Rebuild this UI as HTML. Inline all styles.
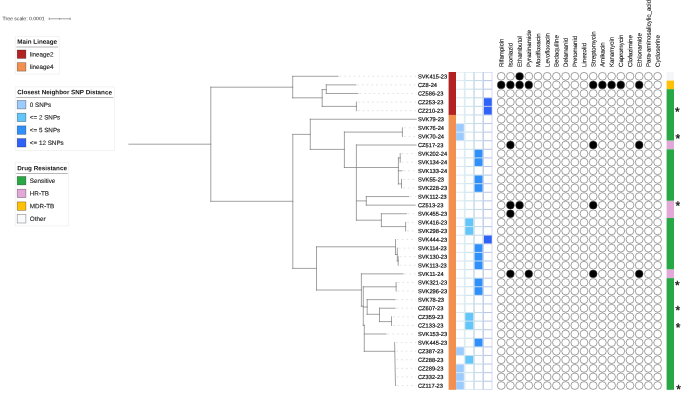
<!DOCTYPE html>
<html><head><meta charset="utf-8"><title>Tree</title>
<style>html,body{margin:0;padding:0;background:#fff}svg text{font-family:"Liberation Sans",sans-serif}</style></head>
<body>
<svg width="685" height="395" viewBox="0 0 685 395" style="display:block">
<rect width="685" height="395" fill="#fff"/>
<text transform="translate(2.6 20.3) rotate(0.05)" font-size="5.1" fill="#333">Tree scale: 0.0001</text>
<path d="M49.2 18.8H70.2M49.2 17.6V20M70.2 17.6V20M59.7 18V19.6" stroke="#666" stroke-width="0.6" fill="none"/>
<rect x="15.2" y="36.4" width="44.0" height="37.6" fill="#fff" stroke="#ececec" stroke-width="0.6"/>
<text transform="translate(17.2 43.8) rotate(0.05)" font-size="6.3" font-weight="bold" fill="#111">Main Lineage</text>
<path d="M16.3 47.0H58.2" stroke="#999" stroke-width="0.7"/>
<rect x="17.2" y="50.0" width="8.7" height="8.4" fill="#b22222" stroke="#000" stroke-opacity="0.45" stroke-width="0.6"/>
<text transform="translate(29.8 56.4) rotate(0.05)" font-size="6.3" fill="#222" stroke="#222" stroke-width="0.12">lineage2</text>
<rect x="17.2" y="62.7" width="8.7" height="8.4" fill="#f4904f" stroke="#000" stroke-opacity="0.45" stroke-width="0.6"/>
<text transform="translate(29.8 69.1) rotate(0.05)" font-size="6.3" fill="#222" stroke="#222" stroke-width="0.12">lineage4</text>
<rect x="15.2" y="86.9" width="99.2" height="63.6" fill="#fff" stroke="#ececec" stroke-width="0.6"/>
<text transform="translate(17.2 94.3) rotate(0.05)" font-size="6.3" font-weight="bold" fill="#111">Closest Neighbor SNP Distance</text>
<path d="M16.3 97.5H113.4" stroke="#999" stroke-width="0.7"/>
<rect x="17.2" y="100.5" width="8.7" height="8.4" fill="#9ecbff" stroke="#000" stroke-opacity="0.45" stroke-width="0.6"/>
<text transform="translate(29.8 106.9) rotate(0.05)" font-size="6.3" fill="#222" stroke="#222" stroke-width="0.12">0 SNPs</text>
<rect x="17.2" y="113.2" width="8.7" height="8.4" fill="#62c6fb" stroke="#000" stroke-opacity="0.45" stroke-width="0.6"/>
<text transform="translate(29.8 119.6) rotate(0.05)" font-size="6.3" fill="#222" stroke="#222" stroke-width="0.12">&lt;= 2 SNPs</text>
<rect x="17.2" y="125.9" width="8.7" height="8.4" fill="#2f8ffb" stroke="#000" stroke-opacity="0.45" stroke-width="0.6"/>
<text transform="translate(29.8 132.3) rotate(0.05)" font-size="6.3" fill="#222" stroke="#222" stroke-width="0.12">&lt;= 5 SNPs</text>
<rect x="17.2" y="138.6" width="8.7" height="8.4" fill="#2f62f8" stroke="#000" stroke-opacity="0.45" stroke-width="0.6"/>
<text transform="translate(29.8 145.0) rotate(0.05)" font-size="6.3" fill="#222" stroke="#222" stroke-width="0.12">&lt;= 12 SNPs</text>
<rect x="15.2" y="162.2" width="53.6" height="63.7" fill="#fff" stroke="#ececec" stroke-width="0.6"/>
<text transform="translate(17.2 170.3) rotate(0.05)" font-size="6.3" font-weight="bold" fill="#111">Drug Resistance</text>
<path d="M16.3 173.5H67.8" stroke="#999" stroke-width="0.7"/>
<rect x="17.2" y="176.5" width="8.7" height="8.4" fill="#28a745" stroke="#000" stroke-opacity="0.45" stroke-width="0.6"/>
<text transform="translate(29.8 182.9) rotate(0.05)" font-size="6.3" fill="#222" stroke="#222" stroke-width="0.12">Sensitive</text>
<rect x="17.2" y="189.2" width="8.7" height="8.4" fill="#e2a9d8" stroke="#000" stroke-opacity="0.45" stroke-width="0.6"/>
<text transform="translate(29.8 195.6) rotate(0.05)" font-size="6.3" fill="#222" stroke="#222" stroke-width="0.12">HR-TB</text>
<rect x="17.2" y="201.9" width="8.7" height="8.4" fill="#ffc107" stroke="#000" stroke-opacity="0.45" stroke-width="0.6"/>
<text transform="translate(29.8 208.3) rotate(0.05)" font-size="6.3" fill="#222" stroke="#222" stroke-width="0.12">MDR-TB</text>
<rect x="17.2" y="214.6" width="8.7" height="8.4" fill="#f8f9fa" stroke="#000" stroke-opacity="0.45" stroke-width="0.6"/>
<text transform="translate(29.8 221.0) rotate(0.05)" font-size="6.3" fill="#222" stroke="#222" stroke-width="0.12">Other</text>
<path d="M339.5 76.30H416.3M357.3 84.89H416.3M359.4 93.48H416.3M357.9 102.07H416.3M357.9 110.66H416.3M403.9 127.84H416.3M403.9 136.43H416.3M401.7 153.61H416.3M401.7 162.20H416.3M403.5 170.79H416.3M403.0 179.38H416.3M403.0 187.97H416.3M410.1 196.56H416.3M407.9 213.74H416.3M407.1 222.33H416.3M407.1 230.92H416.3M397.0 239.51H416.3M398.8 248.10H416.3M399.7 256.69H416.3M399.7 265.28H416.3M404.6 273.87H416.3M397.6 282.46H416.3M397.6 291.05H416.3M396.7 299.64H416.3M396.7 308.23H416.3M393.0 316.82H416.3M393.0 325.41H416.3M387.6 334.00H416.3M396.1 342.59H416.3M396.2 351.18H416.3M396.4 359.77H416.3M396.6 368.36H416.3M396.8 376.95H416.3M397.0 385.54H416.3" stroke="#d2d2d2" stroke-width="0.6" stroke-dasharray="1.8 2.9" fill="none"/>
<path d="M128.9 144.20L210.8 144.20M210.8 87.20L210.8 201.30M210.8 87.20L292.7 87.20M292.7 76.30L292.7 97.80M292.7 76.30L338.0 76.30M292.7 97.80L322.2 97.80M322.2 89.60L322.2 106.40M322.2 89.60L326.3 89.60M326.3 84.89L326.3 93.48M326.3 84.89L355.8 84.89M326.3 93.48L357.9 93.48M322.2 106.40L356.4 106.40M356.4 102.07L356.4 110.66M210.8 201.30L292.8 201.30M292.8 134.40L292.8 268.40M292.8 134.40L310.3 134.40M310.3 119.25L310.3 149.40M310.3 119.25L416.3 119.25M310.3 149.40L344.4 149.40M344.4 132.10L344.4 167.50M344.4 132.10L402.4 132.10M402.4 127.84L402.4 136.43M344.4 167.50L398.4 167.50M356.4 145.02L356.4 220.20M356.4 145.02L416.0 145.02M398.4 157.90L398.4 183.90M398.4 157.90L400.2 157.90M400.2 153.61L400.2 162.20M398.4 170.79L402.0 170.79M398.4 183.90L401.5 183.90M401.5 179.38L401.5 187.97M356.4 200.90L366.3 200.90M366.3 196.56L366.3 205.15M366.3 196.56L408.6 196.56M366.3 205.15L415.2 205.15M356.4 220.20L381.4 220.20M381.4 213.74L381.4 226.60M381.4 213.74L406.4 213.74M381.4 226.60L405.6 226.60M405.6 222.33L405.6 230.92M292.8 268.40L316.5 268.40M316.5 246.80L316.5 290.00M316.5 246.80L395.5 246.80M395.5 239.51L395.5 254.50M395.5 254.50L397.3 254.50M397.3 248.10L397.3 260.90M397.3 260.90L398.2 260.90M398.2 256.69L398.2 265.28M316.5 290.00L361.4 290.00M361.4 273.87L361.4 306.20M361.4 273.87L403.1 273.87M361.4 306.20L363.3 306.20M363.3 286.80L363.3 325.30M363.3 286.80L396.1 286.80M396.1 282.46L396.1 291.05M363.3 325.30L364.3 325.30M364.3 325.30L364.3 351.30M363.3 307.00L367.2 307.00M367.2 299.64L367.2 314.30M367.2 299.64L395.2 299.64M367.2 314.30L379.5 314.30M379.5 308.23L379.5 321.60M379.5 308.23L395.2 308.23M379.5 321.60L391.5 321.60M391.5 316.82L391.5 325.41M364.3 334.00L386.1 334.00M364.3 351.30L394.6 351.30M394.6 342.59L395.5 385.54" stroke="#7a7a7a" stroke-width="0.7" fill="none" stroke-linecap="square"/>
<g font-size="5.8" fill="#111" stroke="#111" stroke-width="0.2">
<text transform="translate(418 78.40) rotate(0.05) scale(0.983 1)">SVK415-23</text>
<text transform="translate(418 86.99) rotate(0.05) scale(0.983 1)">CZ8-24</text>
<text transform="translate(418 95.58) rotate(0.05) scale(0.983 1)">CZ586-23</text>
<text transform="translate(418 104.17) rotate(0.05) scale(0.983 1)">CZ253-23</text>
<text transform="translate(418 112.76) rotate(0.05) scale(0.983 1)">CZ210-23</text>
<text transform="translate(418 121.35) rotate(0.05) scale(0.983 1)">SVK79-23</text>
<text transform="translate(418 129.94) rotate(0.05) scale(0.983 1)">SVK76-24</text>
<text transform="translate(418 138.53) rotate(0.05) scale(0.983 1)">SVK70-24</text>
<text transform="translate(418 147.12) rotate(0.05) scale(0.983 1)">CZ517-23</text>
<text transform="translate(418 155.71) rotate(0.05) scale(0.983 1)">SVK202-24</text>
<text transform="translate(418 164.30) rotate(0.05) scale(0.983 1)">SVK134-24</text>
<text transform="translate(418 172.89) rotate(0.05) scale(0.983 1)">SVK133-24</text>
<text transform="translate(418 181.48) rotate(0.05) scale(0.983 1)">SVK55-23</text>
<text transform="translate(418 190.07) rotate(0.05) scale(0.983 1)">SVK228-23</text>
<text transform="translate(418 198.66) rotate(0.05) scale(0.983 1)">SVK112-23</text>
<text transform="translate(418 207.25) rotate(0.05) scale(0.983 1)">CZ513-23</text>
<text transform="translate(418 215.84) rotate(0.05) scale(0.983 1)">SVK455-23</text>
<text transform="translate(418 224.43) rotate(0.05) scale(0.983 1)">SVK416-23</text>
<text transform="translate(418 233.02) rotate(0.05) scale(0.983 1)">SVK298-23</text>
<text transform="translate(418 241.61) rotate(0.05) scale(0.983 1)">SVK444-23</text>
<text transform="translate(418 250.20) rotate(0.05) scale(0.983 1)">SVK114-23</text>
<text transform="translate(418 258.79) rotate(0.05) scale(0.983 1)">SVK130-23</text>
<text transform="translate(418 267.38) rotate(0.05) scale(0.983 1)">SVK113-23</text>
<text transform="translate(418 275.97) rotate(0.05) scale(0.983 1)">SVK11-24</text>
<text transform="translate(418 284.56) rotate(0.05) scale(0.983 1)">SVK321-23</text>
<text transform="translate(418 293.15) rotate(0.05) scale(0.983 1)">SVK296-23</text>
<text transform="translate(418 301.74) rotate(0.05) scale(0.983 1)">SVK78-23</text>
<text transform="translate(418 310.33) rotate(0.05) scale(0.983 1)">CZ607-23</text>
<text transform="translate(418 318.92) rotate(0.05) scale(0.983 1)">CZ359-23</text>
<text transform="translate(418 327.51) rotate(0.05) scale(0.983 1)">CZ133-23</text>
<text transform="translate(418 336.10) rotate(0.05) scale(0.983 1)">SVK153-23</text>
<text transform="translate(418 344.69) rotate(0.05) scale(0.983 1)">SVK445-23</text>
<text transform="translate(418 353.28) rotate(0.05) scale(0.983 1)">CZ387-23</text>
<text transform="translate(418 361.87) rotate(0.05) scale(0.983 1)">CZ288-23</text>
<text transform="translate(418 370.46) rotate(0.05) scale(0.983 1)">CZ289-23</text>
<text transform="translate(418 379.05) rotate(0.05) scale(0.983 1)">CZ332-23</text>
<text transform="translate(418 387.64) rotate(0.05) scale(0.983 1)">CZ117-23</text>
</g>
<rect x="456.00" y="72.00" width="8.60" height="317.83" fill="#dde9f2"/>
<rect x="464.60" y="72.00" width="9.30" height="317.83" fill="#cbe3ec"/>
<rect x="473.90" y="72.00" width="9.30" height="317.83" fill="#c2dae8"/>
<rect x="483.20" y="72.00" width="9.10" height="317.83" fill="#bcc7e8"/>
<rect x="456.10" y="72.52" width="7.7" height="7.55" fill="#fff"/>
<rect x="465.40" y="72.52" width="7.7" height="7.55" fill="#fff"/>
<rect x="474.70" y="72.52" width="7.7" height="7.55" fill="#fff"/>
<rect x="484.00" y="72.52" width="7.7" height="7.55" fill="#fff"/>
<rect x="456.10" y="81.11" width="7.7" height="7.55" fill="#fff"/>
<rect x="465.40" y="81.11" width="7.7" height="7.55" fill="#fff"/>
<rect x="474.70" y="81.11" width="7.7" height="7.55" fill="#fff"/>
<rect x="484.00" y="81.11" width="7.7" height="7.55" fill="#fff"/>
<rect x="456.10" y="89.70" width="7.7" height="7.55" fill="#fff"/>
<rect x="465.40" y="89.70" width="7.7" height="7.55" fill="#fff"/>
<rect x="474.70" y="89.70" width="7.7" height="7.55" fill="#fff"/>
<rect x="484.00" y="89.70" width="7.7" height="7.55" fill="#fff"/>
<rect x="456.10" y="98.29" width="7.7" height="7.55" fill="#fff"/>
<rect x="465.40" y="98.29" width="7.7" height="7.55" fill="#fff"/>
<rect x="474.70" y="98.29" width="7.7" height="7.55" fill="#fff"/>
<rect x="484.00" y="98.29" width="7.7" height="7.55" fill="#2f62f8"/>
<rect x="456.10" y="106.88" width="7.7" height="7.55" fill="#fff"/>
<rect x="465.40" y="106.88" width="7.7" height="7.55" fill="#fff"/>
<rect x="474.70" y="106.88" width="7.7" height="7.55" fill="#fff"/>
<rect x="484.00" y="106.88" width="7.7" height="7.55" fill="#2f62f8"/>
<rect x="456.10" y="115.47" width="7.7" height="7.55" fill="#fff"/>
<rect x="465.40" y="115.47" width="7.7" height="7.55" fill="#fff"/>
<rect x="474.70" y="115.47" width="7.7" height="7.55" fill="#fff"/>
<rect x="484.00" y="115.47" width="7.7" height="7.55" fill="#fff"/>
<rect x="456.10" y="124.06" width="7.7" height="7.55" fill="#9ecbff"/>
<rect x="465.40" y="124.06" width="7.7" height="7.55" fill="#fff"/>
<rect x="474.70" y="124.06" width="7.7" height="7.55" fill="#fff"/>
<rect x="484.00" y="124.06" width="7.7" height="7.55" fill="#fff"/>
<rect x="456.10" y="132.65" width="7.7" height="7.55" fill="#9ecbff"/>
<rect x="465.40" y="132.65" width="7.7" height="7.55" fill="#fff"/>
<rect x="474.70" y="132.65" width="7.7" height="7.55" fill="#fff"/>
<rect x="484.00" y="132.65" width="7.7" height="7.55" fill="#fff"/>
<rect x="456.10" y="141.24" width="7.7" height="7.55" fill="#fff"/>
<rect x="465.40" y="141.24" width="7.7" height="7.55" fill="#fff"/>
<rect x="474.70" y="141.24" width="7.7" height="7.55" fill="#fff"/>
<rect x="484.00" y="141.24" width="7.7" height="7.55" fill="#fff"/>
<rect x="456.10" y="149.83" width="7.7" height="7.55" fill="#fff"/>
<rect x="465.40" y="149.83" width="7.7" height="7.55" fill="#fff"/>
<rect x="474.70" y="149.83" width="7.7" height="7.55" fill="#2f8ffb"/>
<rect x="484.00" y="149.83" width="7.7" height="7.55" fill="#fff"/>
<rect x="456.10" y="158.42" width="7.7" height="7.55" fill="#fff"/>
<rect x="465.40" y="158.42" width="7.7" height="7.55" fill="#fff"/>
<rect x="474.70" y="158.42" width="7.7" height="7.55" fill="#2f8ffb"/>
<rect x="484.00" y="158.42" width="7.7" height="7.55" fill="#fff"/>
<rect x="456.10" y="167.01" width="7.7" height="7.55" fill="#fff"/>
<rect x="465.40" y="167.01" width="7.7" height="7.55" fill="#fff"/>
<rect x="474.70" y="167.01" width="7.7" height="7.55" fill="#fff"/>
<rect x="484.00" y="167.01" width="7.7" height="7.55" fill="#fff"/>
<rect x="456.10" y="175.60" width="7.7" height="7.55" fill="#fff"/>
<rect x="465.40" y="175.60" width="7.7" height="7.55" fill="#fff"/>
<rect x="474.70" y="175.60" width="7.7" height="7.55" fill="#2f8ffb"/>
<rect x="484.00" y="175.60" width="7.7" height="7.55" fill="#fff"/>
<rect x="456.10" y="184.19" width="7.7" height="7.55" fill="#fff"/>
<rect x="465.40" y="184.19" width="7.7" height="7.55" fill="#fff"/>
<rect x="474.70" y="184.19" width="7.7" height="7.55" fill="#2f8ffb"/>
<rect x="484.00" y="184.19" width="7.7" height="7.55" fill="#fff"/>
<rect x="456.10" y="192.78" width="7.7" height="7.55" fill="#fff"/>
<rect x="465.40" y="192.78" width="7.7" height="7.55" fill="#fff"/>
<rect x="474.70" y="192.78" width="7.7" height="7.55" fill="#fff"/>
<rect x="484.00" y="192.78" width="7.7" height="7.55" fill="#fff"/>
<rect x="456.10" y="201.37" width="7.7" height="7.55" fill="#fff"/>
<rect x="465.40" y="201.37" width="7.7" height="7.55" fill="#fff"/>
<rect x="474.70" y="201.37" width="7.7" height="7.55" fill="#fff"/>
<rect x="484.00" y="201.37" width="7.7" height="7.55" fill="#fff"/>
<rect x="456.10" y="209.96" width="7.7" height="7.55" fill="#fff"/>
<rect x="465.40" y="209.96" width="7.7" height="7.55" fill="#fff"/>
<rect x="474.70" y="209.96" width="7.7" height="7.55" fill="#fff"/>
<rect x="484.00" y="209.96" width="7.7" height="7.55" fill="#fff"/>
<rect x="456.10" y="218.55" width="7.7" height="7.55" fill="#fff"/>
<rect x="465.40" y="218.55" width="7.7" height="7.55" fill="#62c6fb"/>
<rect x="474.70" y="218.55" width="7.7" height="7.55" fill="#fff"/>
<rect x="484.00" y="218.55" width="7.7" height="7.55" fill="#fff"/>
<rect x="456.10" y="227.14" width="7.7" height="7.55" fill="#fff"/>
<rect x="465.40" y="227.14" width="7.7" height="7.55" fill="#62c6fb"/>
<rect x="474.70" y="227.14" width="7.7" height="7.55" fill="#fff"/>
<rect x="484.00" y="227.14" width="7.7" height="7.55" fill="#fff"/>
<rect x="456.10" y="235.73" width="7.7" height="7.55" fill="#fff"/>
<rect x="465.40" y="235.73" width="7.7" height="7.55" fill="#fff"/>
<rect x="474.70" y="235.73" width="7.7" height="7.55" fill="#fff"/>
<rect x="484.00" y="235.73" width="7.7" height="7.55" fill="#2f62f8"/>
<rect x="456.10" y="244.32" width="7.7" height="7.55" fill="#fff"/>
<rect x="465.40" y="244.32" width="7.7" height="7.55" fill="#fff"/>
<rect x="474.70" y="244.32" width="7.7" height="7.55" fill="#2f8ffb"/>
<rect x="484.00" y="244.32" width="7.7" height="7.55" fill="#fff"/>
<rect x="456.10" y="252.91" width="7.7" height="7.55" fill="#fff"/>
<rect x="465.40" y="252.91" width="7.7" height="7.55" fill="#fff"/>
<rect x="474.70" y="252.91" width="7.7" height="7.55" fill="#2f8ffb"/>
<rect x="484.00" y="252.91" width="7.7" height="7.55" fill="#fff"/>
<rect x="456.10" y="261.50" width="7.7" height="7.55" fill="#fff"/>
<rect x="465.40" y="261.50" width="7.7" height="7.55" fill="#fff"/>
<rect x="474.70" y="261.50" width="7.7" height="7.55" fill="#2f8ffb"/>
<rect x="484.00" y="261.50" width="7.7" height="7.55" fill="#fff"/>
<rect x="456.10" y="270.09" width="7.7" height="7.55" fill="#fff"/>
<rect x="465.40" y="270.09" width="7.7" height="7.55" fill="#fff"/>
<rect x="474.70" y="270.09" width="7.7" height="7.55" fill="#fff"/>
<rect x="484.00" y="270.09" width="7.7" height="7.55" fill="#fff"/>
<rect x="456.10" y="278.68" width="7.7" height="7.55" fill="#fff"/>
<rect x="465.40" y="278.68" width="7.7" height="7.55" fill="#fff"/>
<rect x="474.70" y="278.68" width="7.7" height="7.55" fill="#2f8ffb"/>
<rect x="484.00" y="278.68" width="7.7" height="7.55" fill="#fff"/>
<rect x="456.10" y="287.27" width="7.7" height="7.55" fill="#fff"/>
<rect x="465.40" y="287.27" width="7.7" height="7.55" fill="#fff"/>
<rect x="474.70" y="287.27" width="7.7" height="7.55" fill="#2f8ffb"/>
<rect x="484.00" y="287.27" width="7.7" height="7.55" fill="#fff"/>
<rect x="456.10" y="295.86" width="7.7" height="7.55" fill="#fff"/>
<rect x="465.40" y="295.86" width="7.7" height="7.55" fill="#fff"/>
<rect x="474.70" y="295.86" width="7.7" height="7.55" fill="#fff"/>
<rect x="484.00" y="295.86" width="7.7" height="7.55" fill="#fff"/>
<rect x="456.10" y="304.45" width="7.7" height="7.55" fill="#fff"/>
<rect x="465.40" y="304.45" width="7.7" height="7.55" fill="#fff"/>
<rect x="474.70" y="304.45" width="7.7" height="7.55" fill="#fff"/>
<rect x="484.00" y="304.45" width="7.7" height="7.55" fill="#fff"/>
<rect x="456.10" y="313.04" width="7.7" height="7.55" fill="#fff"/>
<rect x="465.40" y="313.04" width="7.7" height="7.55" fill="#62c6fb"/>
<rect x="474.70" y="313.04" width="7.7" height="7.55" fill="#fff"/>
<rect x="484.00" y="313.04" width="7.7" height="7.55" fill="#fff"/>
<rect x="456.10" y="321.63" width="7.7" height="7.55" fill="#fff"/>
<rect x="465.40" y="321.63" width="7.7" height="7.55" fill="#62c6fb"/>
<rect x="474.70" y="321.63" width="7.7" height="7.55" fill="#fff"/>
<rect x="484.00" y="321.63" width="7.7" height="7.55" fill="#fff"/>
<rect x="456.10" y="330.22" width="7.7" height="7.55" fill="#fff"/>
<rect x="465.40" y="330.22" width="7.7" height="7.55" fill="#fff"/>
<rect x="474.70" y="330.22" width="7.7" height="7.55" fill="#fff"/>
<rect x="484.00" y="330.22" width="7.7" height="7.55" fill="#fff"/>
<rect x="456.10" y="338.81" width="7.7" height="7.55" fill="#fff"/>
<rect x="465.40" y="338.81" width="7.7" height="7.55" fill="#fff"/>
<rect x="474.70" y="338.81" width="7.7" height="7.55" fill="#2f8ffb"/>
<rect x="484.00" y="338.81" width="7.7" height="7.55" fill="#fff"/>
<rect x="456.10" y="347.40" width="7.7" height="7.55" fill="#9ecbff"/>
<rect x="465.40" y="347.40" width="7.7" height="7.55" fill="#fff"/>
<rect x="474.70" y="347.40" width="7.7" height="7.55" fill="#fff"/>
<rect x="484.00" y="347.40" width="7.7" height="7.55" fill="#fff"/>
<rect x="456.10" y="355.99" width="7.7" height="7.55" fill="#fff"/>
<rect x="465.40" y="355.99" width="7.7" height="7.55" fill="#62c6fb"/>
<rect x="474.70" y="355.99" width="7.7" height="7.55" fill="#fff"/>
<rect x="484.00" y="355.99" width="7.7" height="7.55" fill="#fff"/>
<rect x="456.10" y="364.58" width="7.7" height="7.55" fill="#9ecbff"/>
<rect x="465.40" y="364.58" width="7.7" height="7.55" fill="#fff"/>
<rect x="474.70" y="364.58" width="7.7" height="7.55" fill="#fff"/>
<rect x="484.00" y="364.58" width="7.7" height="7.55" fill="#fff"/>
<rect x="456.10" y="373.17" width="7.7" height="7.55" fill="#9ecbff"/>
<rect x="465.40" y="373.17" width="7.7" height="7.55" fill="#fff"/>
<rect x="474.70" y="373.17" width="7.7" height="7.55" fill="#fff"/>
<rect x="484.00" y="373.17" width="7.7" height="7.55" fill="#fff"/>
<rect x="456.10" y="381.76" width="7.7" height="7.55" fill="#9ecbff"/>
<rect x="465.40" y="381.76" width="7.7" height="7.55" fill="#fff"/>
<rect x="474.70" y="381.76" width="7.7" height="7.55" fill="#fff"/>
<rect x="484.00" y="381.76" width="7.7" height="7.55" fill="#fff"/>
<rect x="448.6" y="72.00" width="7.4" height="42.95" fill="#b22222"/>
<rect x="448.6" y="114.95" width="7.4" height="274.88" fill="#f4904f"/>
<g stroke="#444" stroke-width="0.5">
<circle cx="501.2" cy="76.30" r="3.9" fill="#fff"/>
<circle cx="510.4" cy="76.30" r="3.9" fill="#fff"/>
<circle cx="519.6" cy="76.30" r="3.9" fill="#000"/>
<circle cx="528.8" cy="76.30" r="3.9" fill="#fff"/>
<circle cx="538.0" cy="76.30" r="3.9" fill="#fff"/>
<circle cx="547.2" cy="76.30" r="3.9" fill="#fff"/>
<circle cx="556.4" cy="76.30" r="3.9" fill="#fff"/>
<circle cx="565.6" cy="76.30" r="3.9" fill="#fff"/>
<circle cx="574.8" cy="76.30" r="3.9" fill="#fff"/>
<circle cx="584.0" cy="76.30" r="3.9" fill="#fff"/>
<circle cx="593.2" cy="76.30" r="3.9" fill="#fff"/>
<circle cx="602.4" cy="76.30" r="3.9" fill="#fff"/>
<circle cx="611.6" cy="76.30" r="3.9" fill="#fff"/>
<circle cx="620.8" cy="76.30" r="3.9" fill="#fff"/>
<circle cx="630.0" cy="76.30" r="3.9" fill="#fff"/>
<circle cx="639.2" cy="76.30" r="3.9" fill="#fff"/>
<circle cx="648.4" cy="76.30" r="3.9" fill="#fff"/>
<circle cx="657.6" cy="76.30" r="3.9" fill="#fff"/>
<circle cx="501.2" cy="84.89" r="3.9" fill="#000"/>
<circle cx="510.4" cy="84.89" r="3.9" fill="#000"/>
<circle cx="519.6" cy="84.89" r="3.9" fill="#000"/>
<circle cx="528.8" cy="84.89" r="3.9" fill="#000"/>
<circle cx="538.0" cy="84.89" r="3.9" fill="#fff"/>
<circle cx="547.2" cy="84.89" r="3.9" fill="#fff"/>
<circle cx="556.4" cy="84.89" r="3.9" fill="#fff"/>
<circle cx="565.6" cy="84.89" r="3.9" fill="#fff"/>
<circle cx="574.8" cy="84.89" r="3.9" fill="#fff"/>
<circle cx="584.0" cy="84.89" r="3.9" fill="#fff"/>
<circle cx="593.2" cy="84.89" r="3.9" fill="#000"/>
<circle cx="602.4" cy="84.89" r="3.9" fill="#000"/>
<circle cx="611.6" cy="84.89" r="3.9" fill="#000"/>
<circle cx="620.8" cy="84.89" r="3.9" fill="#000"/>
<circle cx="630.0" cy="84.89" r="3.9" fill="#fff"/>
<circle cx="639.2" cy="84.89" r="3.9" fill="#000"/>
<circle cx="648.4" cy="84.89" r="3.9" fill="#fff"/>
<circle cx="657.6" cy="84.89" r="3.9" fill="#fff"/>
<circle cx="501.2" cy="93.48" r="3.9" fill="#fff"/>
<circle cx="510.4" cy="93.48" r="3.9" fill="#fff"/>
<circle cx="519.6" cy="93.48" r="3.9" fill="#fff"/>
<circle cx="528.8" cy="93.48" r="3.9" fill="#fff"/>
<circle cx="538.0" cy="93.48" r="3.9" fill="#fff"/>
<circle cx="547.2" cy="93.48" r="3.9" fill="#fff"/>
<circle cx="556.4" cy="93.48" r="3.9" fill="#fff"/>
<circle cx="565.6" cy="93.48" r="3.9" fill="#fff"/>
<circle cx="574.8" cy="93.48" r="3.9" fill="#fff"/>
<circle cx="584.0" cy="93.48" r="3.9" fill="#fff"/>
<circle cx="593.2" cy="93.48" r="3.9" fill="#fff"/>
<circle cx="602.4" cy="93.48" r="3.9" fill="#fff"/>
<circle cx="611.6" cy="93.48" r="3.9" fill="#fff"/>
<circle cx="620.8" cy="93.48" r="3.9" fill="#fff"/>
<circle cx="630.0" cy="93.48" r="3.9" fill="#fff"/>
<circle cx="639.2" cy="93.48" r="3.9" fill="#fff"/>
<circle cx="648.4" cy="93.48" r="3.9" fill="#fff"/>
<circle cx="657.6" cy="93.48" r="3.9" fill="#fff"/>
<circle cx="501.2" cy="102.07" r="3.9" fill="#fff"/>
<circle cx="510.4" cy="102.07" r="3.9" fill="#fff"/>
<circle cx="519.6" cy="102.07" r="3.9" fill="#fff"/>
<circle cx="528.8" cy="102.07" r="3.9" fill="#fff"/>
<circle cx="538.0" cy="102.07" r="3.9" fill="#fff"/>
<circle cx="547.2" cy="102.07" r="3.9" fill="#fff"/>
<circle cx="556.4" cy="102.07" r="3.9" fill="#fff"/>
<circle cx="565.6" cy="102.07" r="3.9" fill="#fff"/>
<circle cx="574.8" cy="102.07" r="3.9" fill="#fff"/>
<circle cx="584.0" cy="102.07" r="3.9" fill="#fff"/>
<circle cx="593.2" cy="102.07" r="3.9" fill="#fff"/>
<circle cx="602.4" cy="102.07" r="3.9" fill="#fff"/>
<circle cx="611.6" cy="102.07" r="3.9" fill="#fff"/>
<circle cx="620.8" cy="102.07" r="3.9" fill="#fff"/>
<circle cx="630.0" cy="102.07" r="3.9" fill="#fff"/>
<circle cx="639.2" cy="102.07" r="3.9" fill="#fff"/>
<circle cx="648.4" cy="102.07" r="3.9" fill="#fff"/>
<circle cx="657.6" cy="102.07" r="3.9" fill="#fff"/>
<circle cx="501.2" cy="110.66" r="3.9" fill="#fff"/>
<circle cx="510.4" cy="110.66" r="3.9" fill="#fff"/>
<circle cx="519.6" cy="110.66" r="3.9" fill="#fff"/>
<circle cx="528.8" cy="110.66" r="3.9" fill="#fff"/>
<circle cx="538.0" cy="110.66" r="3.9" fill="#fff"/>
<circle cx="547.2" cy="110.66" r="3.9" fill="#fff"/>
<circle cx="556.4" cy="110.66" r="3.9" fill="#fff"/>
<circle cx="565.6" cy="110.66" r="3.9" fill="#fff"/>
<circle cx="574.8" cy="110.66" r="3.9" fill="#fff"/>
<circle cx="584.0" cy="110.66" r="3.9" fill="#fff"/>
<circle cx="593.2" cy="110.66" r="3.9" fill="#fff"/>
<circle cx="602.4" cy="110.66" r="3.9" fill="#fff"/>
<circle cx="611.6" cy="110.66" r="3.9" fill="#fff"/>
<circle cx="620.8" cy="110.66" r="3.9" fill="#fff"/>
<circle cx="630.0" cy="110.66" r="3.9" fill="#fff"/>
<circle cx="639.2" cy="110.66" r="3.9" fill="#fff"/>
<circle cx="648.4" cy="110.66" r="3.9" fill="#fff"/>
<circle cx="657.6" cy="110.66" r="3.9" fill="#fff"/>
<circle cx="501.2" cy="119.25" r="3.9" fill="#fff"/>
<circle cx="510.4" cy="119.25" r="3.9" fill="#fff"/>
<circle cx="519.6" cy="119.25" r="3.9" fill="#fff"/>
<circle cx="528.8" cy="119.25" r="3.9" fill="#fff"/>
<circle cx="538.0" cy="119.25" r="3.9" fill="#fff"/>
<circle cx="547.2" cy="119.25" r="3.9" fill="#fff"/>
<circle cx="556.4" cy="119.25" r="3.9" fill="#fff"/>
<circle cx="565.6" cy="119.25" r="3.9" fill="#fff"/>
<circle cx="574.8" cy="119.25" r="3.9" fill="#fff"/>
<circle cx="584.0" cy="119.25" r="3.9" fill="#fff"/>
<circle cx="593.2" cy="119.25" r="3.9" fill="#fff"/>
<circle cx="602.4" cy="119.25" r="3.9" fill="#fff"/>
<circle cx="611.6" cy="119.25" r="3.9" fill="#fff"/>
<circle cx="620.8" cy="119.25" r="3.9" fill="#fff"/>
<circle cx="630.0" cy="119.25" r="3.9" fill="#fff"/>
<circle cx="639.2" cy="119.25" r="3.9" fill="#fff"/>
<circle cx="648.4" cy="119.25" r="3.9" fill="#fff"/>
<circle cx="657.6" cy="119.25" r="3.9" fill="#fff"/>
<circle cx="501.2" cy="127.84" r="3.9" fill="#fff"/>
<circle cx="510.4" cy="127.84" r="3.9" fill="#fff"/>
<circle cx="519.6" cy="127.84" r="3.9" fill="#fff"/>
<circle cx="528.8" cy="127.84" r="3.9" fill="#fff"/>
<circle cx="538.0" cy="127.84" r="3.9" fill="#fff"/>
<circle cx="547.2" cy="127.84" r="3.9" fill="#fff"/>
<circle cx="556.4" cy="127.84" r="3.9" fill="#fff"/>
<circle cx="565.6" cy="127.84" r="3.9" fill="#fff"/>
<circle cx="574.8" cy="127.84" r="3.9" fill="#fff"/>
<circle cx="584.0" cy="127.84" r="3.9" fill="#fff"/>
<circle cx="593.2" cy="127.84" r="3.9" fill="#fff"/>
<circle cx="602.4" cy="127.84" r="3.9" fill="#fff"/>
<circle cx="611.6" cy="127.84" r="3.9" fill="#fff"/>
<circle cx="620.8" cy="127.84" r="3.9" fill="#fff"/>
<circle cx="630.0" cy="127.84" r="3.9" fill="#fff"/>
<circle cx="639.2" cy="127.84" r="3.9" fill="#fff"/>
<circle cx="648.4" cy="127.84" r="3.9" fill="#fff"/>
<circle cx="657.6" cy="127.84" r="3.9" fill="#fff"/>
<circle cx="501.2" cy="136.43" r="3.9" fill="#fff"/>
<circle cx="510.4" cy="136.43" r="3.9" fill="#fff"/>
<circle cx="519.6" cy="136.43" r="3.9" fill="#fff"/>
<circle cx="528.8" cy="136.43" r="3.9" fill="#fff"/>
<circle cx="538.0" cy="136.43" r="3.9" fill="#fff"/>
<circle cx="547.2" cy="136.43" r="3.9" fill="#fff"/>
<circle cx="556.4" cy="136.43" r="3.9" fill="#fff"/>
<circle cx="565.6" cy="136.43" r="3.9" fill="#fff"/>
<circle cx="574.8" cy="136.43" r="3.9" fill="#fff"/>
<circle cx="584.0" cy="136.43" r="3.9" fill="#fff"/>
<circle cx="593.2" cy="136.43" r="3.9" fill="#fff"/>
<circle cx="602.4" cy="136.43" r="3.9" fill="#fff"/>
<circle cx="611.6" cy="136.43" r="3.9" fill="#fff"/>
<circle cx="620.8" cy="136.43" r="3.9" fill="#fff"/>
<circle cx="630.0" cy="136.43" r="3.9" fill="#fff"/>
<circle cx="639.2" cy="136.43" r="3.9" fill="#fff"/>
<circle cx="648.4" cy="136.43" r="3.9" fill="#fff"/>
<circle cx="657.6" cy="136.43" r="3.9" fill="#fff"/>
<circle cx="501.2" cy="145.02" r="3.9" fill="#fff"/>
<circle cx="510.4" cy="145.02" r="3.9" fill="#000"/>
<circle cx="519.6" cy="145.02" r="3.9" fill="#fff"/>
<circle cx="528.8" cy="145.02" r="3.9" fill="#fff"/>
<circle cx="538.0" cy="145.02" r="3.9" fill="#fff"/>
<circle cx="547.2" cy="145.02" r="3.9" fill="#fff"/>
<circle cx="556.4" cy="145.02" r="3.9" fill="#fff"/>
<circle cx="565.6" cy="145.02" r="3.9" fill="#fff"/>
<circle cx="574.8" cy="145.02" r="3.9" fill="#fff"/>
<circle cx="584.0" cy="145.02" r="3.9" fill="#fff"/>
<circle cx="593.2" cy="145.02" r="3.9" fill="#000"/>
<circle cx="602.4" cy="145.02" r="3.9" fill="#fff"/>
<circle cx="611.6" cy="145.02" r="3.9" fill="#fff"/>
<circle cx="620.8" cy="145.02" r="3.9" fill="#fff"/>
<circle cx="630.0" cy="145.02" r="3.9" fill="#fff"/>
<circle cx="639.2" cy="145.02" r="3.9" fill="#000"/>
<circle cx="648.4" cy="145.02" r="3.9" fill="#fff"/>
<circle cx="657.6" cy="145.02" r="3.9" fill="#fff"/>
<circle cx="501.2" cy="153.61" r="3.9" fill="#fff"/>
<circle cx="510.4" cy="153.61" r="3.9" fill="#fff"/>
<circle cx="519.6" cy="153.61" r="3.9" fill="#fff"/>
<circle cx="528.8" cy="153.61" r="3.9" fill="#fff"/>
<circle cx="538.0" cy="153.61" r="3.9" fill="#fff"/>
<circle cx="547.2" cy="153.61" r="3.9" fill="#fff"/>
<circle cx="556.4" cy="153.61" r="3.9" fill="#fff"/>
<circle cx="565.6" cy="153.61" r="3.9" fill="#fff"/>
<circle cx="574.8" cy="153.61" r="3.9" fill="#fff"/>
<circle cx="584.0" cy="153.61" r="3.9" fill="#fff"/>
<circle cx="593.2" cy="153.61" r="3.9" fill="#fff"/>
<circle cx="602.4" cy="153.61" r="3.9" fill="#fff"/>
<circle cx="611.6" cy="153.61" r="3.9" fill="#fff"/>
<circle cx="620.8" cy="153.61" r="3.9" fill="#fff"/>
<circle cx="630.0" cy="153.61" r="3.9" fill="#fff"/>
<circle cx="639.2" cy="153.61" r="3.9" fill="#fff"/>
<circle cx="648.4" cy="153.61" r="3.9" fill="#fff"/>
<circle cx="657.6" cy="153.61" r="3.9" fill="#fff"/>
<circle cx="501.2" cy="162.20" r="3.9" fill="#fff"/>
<circle cx="510.4" cy="162.20" r="3.9" fill="#fff"/>
<circle cx="519.6" cy="162.20" r="3.9" fill="#fff"/>
<circle cx="528.8" cy="162.20" r="3.9" fill="#fff"/>
<circle cx="538.0" cy="162.20" r="3.9" fill="#fff"/>
<circle cx="547.2" cy="162.20" r="3.9" fill="#fff"/>
<circle cx="556.4" cy="162.20" r="3.9" fill="#fff"/>
<circle cx="565.6" cy="162.20" r="3.9" fill="#fff"/>
<circle cx="574.8" cy="162.20" r="3.9" fill="#fff"/>
<circle cx="584.0" cy="162.20" r="3.9" fill="#fff"/>
<circle cx="593.2" cy="162.20" r="3.9" fill="#fff"/>
<circle cx="602.4" cy="162.20" r="3.9" fill="#fff"/>
<circle cx="611.6" cy="162.20" r="3.9" fill="#fff"/>
<circle cx="620.8" cy="162.20" r="3.9" fill="#fff"/>
<circle cx="630.0" cy="162.20" r="3.9" fill="#fff"/>
<circle cx="639.2" cy="162.20" r="3.9" fill="#fff"/>
<circle cx="648.4" cy="162.20" r="3.9" fill="#fff"/>
<circle cx="657.6" cy="162.20" r="3.9" fill="#fff"/>
<circle cx="501.2" cy="170.79" r="3.9" fill="#fff"/>
<circle cx="510.4" cy="170.79" r="3.9" fill="#fff"/>
<circle cx="519.6" cy="170.79" r="3.9" fill="#fff"/>
<circle cx="528.8" cy="170.79" r="3.9" fill="#fff"/>
<circle cx="538.0" cy="170.79" r="3.9" fill="#fff"/>
<circle cx="547.2" cy="170.79" r="3.9" fill="#fff"/>
<circle cx="556.4" cy="170.79" r="3.9" fill="#fff"/>
<circle cx="565.6" cy="170.79" r="3.9" fill="#fff"/>
<circle cx="574.8" cy="170.79" r="3.9" fill="#fff"/>
<circle cx="584.0" cy="170.79" r="3.9" fill="#fff"/>
<circle cx="593.2" cy="170.79" r="3.9" fill="#fff"/>
<circle cx="602.4" cy="170.79" r="3.9" fill="#fff"/>
<circle cx="611.6" cy="170.79" r="3.9" fill="#fff"/>
<circle cx="620.8" cy="170.79" r="3.9" fill="#fff"/>
<circle cx="630.0" cy="170.79" r="3.9" fill="#fff"/>
<circle cx="639.2" cy="170.79" r="3.9" fill="#fff"/>
<circle cx="648.4" cy="170.79" r="3.9" fill="#fff"/>
<circle cx="657.6" cy="170.79" r="3.9" fill="#fff"/>
<circle cx="501.2" cy="179.38" r="3.9" fill="#fff"/>
<circle cx="510.4" cy="179.38" r="3.9" fill="#fff"/>
<circle cx="519.6" cy="179.38" r="3.9" fill="#fff"/>
<circle cx="528.8" cy="179.38" r="3.9" fill="#fff"/>
<circle cx="538.0" cy="179.38" r="3.9" fill="#fff"/>
<circle cx="547.2" cy="179.38" r="3.9" fill="#fff"/>
<circle cx="556.4" cy="179.38" r="3.9" fill="#fff"/>
<circle cx="565.6" cy="179.38" r="3.9" fill="#fff"/>
<circle cx="574.8" cy="179.38" r="3.9" fill="#fff"/>
<circle cx="584.0" cy="179.38" r="3.9" fill="#fff"/>
<circle cx="593.2" cy="179.38" r="3.9" fill="#fff"/>
<circle cx="602.4" cy="179.38" r="3.9" fill="#fff"/>
<circle cx="611.6" cy="179.38" r="3.9" fill="#fff"/>
<circle cx="620.8" cy="179.38" r="3.9" fill="#fff"/>
<circle cx="630.0" cy="179.38" r="3.9" fill="#fff"/>
<circle cx="639.2" cy="179.38" r="3.9" fill="#fff"/>
<circle cx="648.4" cy="179.38" r="3.9" fill="#fff"/>
<circle cx="657.6" cy="179.38" r="3.9" fill="#fff"/>
<circle cx="501.2" cy="187.97" r="3.9" fill="#fff"/>
<circle cx="510.4" cy="187.97" r="3.9" fill="#fff"/>
<circle cx="519.6" cy="187.97" r="3.9" fill="#fff"/>
<circle cx="528.8" cy="187.97" r="3.9" fill="#fff"/>
<circle cx="538.0" cy="187.97" r="3.9" fill="#fff"/>
<circle cx="547.2" cy="187.97" r="3.9" fill="#fff"/>
<circle cx="556.4" cy="187.97" r="3.9" fill="#fff"/>
<circle cx="565.6" cy="187.97" r="3.9" fill="#fff"/>
<circle cx="574.8" cy="187.97" r="3.9" fill="#fff"/>
<circle cx="584.0" cy="187.97" r="3.9" fill="#fff"/>
<circle cx="593.2" cy="187.97" r="3.9" fill="#fff"/>
<circle cx="602.4" cy="187.97" r="3.9" fill="#fff"/>
<circle cx="611.6" cy="187.97" r="3.9" fill="#fff"/>
<circle cx="620.8" cy="187.97" r="3.9" fill="#fff"/>
<circle cx="630.0" cy="187.97" r="3.9" fill="#fff"/>
<circle cx="639.2" cy="187.97" r="3.9" fill="#fff"/>
<circle cx="648.4" cy="187.97" r="3.9" fill="#fff"/>
<circle cx="657.6" cy="187.97" r="3.9" fill="#fff"/>
<circle cx="501.2" cy="196.56" r="3.9" fill="#fff"/>
<circle cx="510.4" cy="196.56" r="3.9" fill="#fff"/>
<circle cx="519.6" cy="196.56" r="3.9" fill="#fff"/>
<circle cx="528.8" cy="196.56" r="3.9" fill="#fff"/>
<circle cx="538.0" cy="196.56" r="3.9" fill="#fff"/>
<circle cx="547.2" cy="196.56" r="3.9" fill="#fff"/>
<circle cx="556.4" cy="196.56" r="3.9" fill="#fff"/>
<circle cx="565.6" cy="196.56" r="3.9" fill="#fff"/>
<circle cx="574.8" cy="196.56" r="3.9" fill="#fff"/>
<circle cx="584.0" cy="196.56" r="3.9" fill="#fff"/>
<circle cx="593.2" cy="196.56" r="3.9" fill="#fff"/>
<circle cx="602.4" cy="196.56" r="3.9" fill="#fff"/>
<circle cx="611.6" cy="196.56" r="3.9" fill="#fff"/>
<circle cx="620.8" cy="196.56" r="3.9" fill="#fff"/>
<circle cx="630.0" cy="196.56" r="3.9" fill="#fff"/>
<circle cx="639.2" cy="196.56" r="3.9" fill="#fff"/>
<circle cx="648.4" cy="196.56" r="3.9" fill="#fff"/>
<circle cx="657.6" cy="196.56" r="3.9" fill="#fff"/>
<circle cx="501.2" cy="205.15" r="3.9" fill="#fff"/>
<circle cx="510.4" cy="205.15" r="3.9" fill="#000"/>
<circle cx="519.6" cy="205.15" r="3.9" fill="#000"/>
<circle cx="528.8" cy="205.15" r="3.9" fill="#fff"/>
<circle cx="538.0" cy="205.15" r="3.9" fill="#fff"/>
<circle cx="547.2" cy="205.15" r="3.9" fill="#fff"/>
<circle cx="556.4" cy="205.15" r="3.9" fill="#fff"/>
<circle cx="565.6" cy="205.15" r="3.9" fill="#fff"/>
<circle cx="574.8" cy="205.15" r="3.9" fill="#fff"/>
<circle cx="584.0" cy="205.15" r="3.9" fill="#fff"/>
<circle cx="593.2" cy="205.15" r="3.9" fill="#000"/>
<circle cx="602.4" cy="205.15" r="3.9" fill="#fff"/>
<circle cx="611.6" cy="205.15" r="3.9" fill="#fff"/>
<circle cx="620.8" cy="205.15" r="3.9" fill="#fff"/>
<circle cx="630.0" cy="205.15" r="3.9" fill="#fff"/>
<circle cx="639.2" cy="205.15" r="3.9" fill="#fff"/>
<circle cx="648.4" cy="205.15" r="3.9" fill="#fff"/>
<circle cx="657.6" cy="205.15" r="3.9" fill="#fff"/>
<circle cx="501.2" cy="213.74" r="3.9" fill="#fff"/>
<circle cx="510.4" cy="213.74" r="3.9" fill="#000"/>
<circle cx="519.6" cy="213.74" r="3.9" fill="#fff"/>
<circle cx="528.8" cy="213.74" r="3.9" fill="#fff"/>
<circle cx="538.0" cy="213.74" r="3.9" fill="#fff"/>
<circle cx="547.2" cy="213.74" r="3.9" fill="#fff"/>
<circle cx="556.4" cy="213.74" r="3.9" fill="#fff"/>
<circle cx="565.6" cy="213.74" r="3.9" fill="#fff"/>
<circle cx="574.8" cy="213.74" r="3.9" fill="#fff"/>
<circle cx="584.0" cy="213.74" r="3.9" fill="#fff"/>
<circle cx="593.2" cy="213.74" r="3.9" fill="#fff"/>
<circle cx="602.4" cy="213.74" r="3.9" fill="#fff"/>
<circle cx="611.6" cy="213.74" r="3.9" fill="#fff"/>
<circle cx="620.8" cy="213.74" r="3.9" fill="#fff"/>
<circle cx="630.0" cy="213.74" r="3.9" fill="#fff"/>
<circle cx="639.2" cy="213.74" r="3.9" fill="#fff"/>
<circle cx="648.4" cy="213.74" r="3.9" fill="#fff"/>
<circle cx="657.6" cy="213.74" r="3.9" fill="#fff"/>
<circle cx="501.2" cy="222.33" r="3.9" fill="#fff"/>
<circle cx="510.4" cy="222.33" r="3.9" fill="#fff"/>
<circle cx="519.6" cy="222.33" r="3.9" fill="#fff"/>
<circle cx="528.8" cy="222.33" r="3.9" fill="#fff"/>
<circle cx="538.0" cy="222.33" r="3.9" fill="#fff"/>
<circle cx="547.2" cy="222.33" r="3.9" fill="#fff"/>
<circle cx="556.4" cy="222.33" r="3.9" fill="#fff"/>
<circle cx="565.6" cy="222.33" r="3.9" fill="#fff"/>
<circle cx="574.8" cy="222.33" r="3.9" fill="#fff"/>
<circle cx="584.0" cy="222.33" r="3.9" fill="#fff"/>
<circle cx="593.2" cy="222.33" r="3.9" fill="#fff"/>
<circle cx="602.4" cy="222.33" r="3.9" fill="#fff"/>
<circle cx="611.6" cy="222.33" r="3.9" fill="#fff"/>
<circle cx="620.8" cy="222.33" r="3.9" fill="#fff"/>
<circle cx="630.0" cy="222.33" r="3.9" fill="#fff"/>
<circle cx="639.2" cy="222.33" r="3.9" fill="#fff"/>
<circle cx="648.4" cy="222.33" r="3.9" fill="#fff"/>
<circle cx="657.6" cy="222.33" r="3.9" fill="#fff"/>
<circle cx="501.2" cy="230.92" r="3.9" fill="#fff"/>
<circle cx="510.4" cy="230.92" r="3.9" fill="#fff"/>
<circle cx="519.6" cy="230.92" r="3.9" fill="#fff"/>
<circle cx="528.8" cy="230.92" r="3.9" fill="#fff"/>
<circle cx="538.0" cy="230.92" r="3.9" fill="#fff"/>
<circle cx="547.2" cy="230.92" r="3.9" fill="#fff"/>
<circle cx="556.4" cy="230.92" r="3.9" fill="#fff"/>
<circle cx="565.6" cy="230.92" r="3.9" fill="#fff"/>
<circle cx="574.8" cy="230.92" r="3.9" fill="#fff"/>
<circle cx="584.0" cy="230.92" r="3.9" fill="#fff"/>
<circle cx="593.2" cy="230.92" r="3.9" fill="#fff"/>
<circle cx="602.4" cy="230.92" r="3.9" fill="#fff"/>
<circle cx="611.6" cy="230.92" r="3.9" fill="#fff"/>
<circle cx="620.8" cy="230.92" r="3.9" fill="#fff"/>
<circle cx="630.0" cy="230.92" r="3.9" fill="#fff"/>
<circle cx="639.2" cy="230.92" r="3.9" fill="#fff"/>
<circle cx="648.4" cy="230.92" r="3.9" fill="#fff"/>
<circle cx="657.6" cy="230.92" r="3.9" fill="#fff"/>
<circle cx="501.2" cy="239.51" r="3.9" fill="#fff"/>
<circle cx="510.4" cy="239.51" r="3.9" fill="#fff"/>
<circle cx="519.6" cy="239.51" r="3.9" fill="#fff"/>
<circle cx="528.8" cy="239.51" r="3.9" fill="#fff"/>
<circle cx="538.0" cy="239.51" r="3.9" fill="#fff"/>
<circle cx="547.2" cy="239.51" r="3.9" fill="#fff"/>
<circle cx="556.4" cy="239.51" r="3.9" fill="#fff"/>
<circle cx="565.6" cy="239.51" r="3.9" fill="#fff"/>
<circle cx="574.8" cy="239.51" r="3.9" fill="#fff"/>
<circle cx="584.0" cy="239.51" r="3.9" fill="#fff"/>
<circle cx="593.2" cy="239.51" r="3.9" fill="#fff"/>
<circle cx="602.4" cy="239.51" r="3.9" fill="#fff"/>
<circle cx="611.6" cy="239.51" r="3.9" fill="#fff"/>
<circle cx="620.8" cy="239.51" r="3.9" fill="#fff"/>
<circle cx="630.0" cy="239.51" r="3.9" fill="#fff"/>
<circle cx="639.2" cy="239.51" r="3.9" fill="#fff"/>
<circle cx="648.4" cy="239.51" r="3.9" fill="#fff"/>
<circle cx="657.6" cy="239.51" r="3.9" fill="#fff"/>
<circle cx="501.2" cy="248.10" r="3.9" fill="#fff"/>
<circle cx="510.4" cy="248.10" r="3.9" fill="#fff"/>
<circle cx="519.6" cy="248.10" r="3.9" fill="#fff"/>
<circle cx="528.8" cy="248.10" r="3.9" fill="#fff"/>
<circle cx="538.0" cy="248.10" r="3.9" fill="#fff"/>
<circle cx="547.2" cy="248.10" r="3.9" fill="#fff"/>
<circle cx="556.4" cy="248.10" r="3.9" fill="#fff"/>
<circle cx="565.6" cy="248.10" r="3.9" fill="#fff"/>
<circle cx="574.8" cy="248.10" r="3.9" fill="#fff"/>
<circle cx="584.0" cy="248.10" r="3.9" fill="#fff"/>
<circle cx="593.2" cy="248.10" r="3.9" fill="#fff"/>
<circle cx="602.4" cy="248.10" r="3.9" fill="#fff"/>
<circle cx="611.6" cy="248.10" r="3.9" fill="#fff"/>
<circle cx="620.8" cy="248.10" r="3.9" fill="#fff"/>
<circle cx="630.0" cy="248.10" r="3.9" fill="#fff"/>
<circle cx="639.2" cy="248.10" r="3.9" fill="#fff"/>
<circle cx="648.4" cy="248.10" r="3.9" fill="#fff"/>
<circle cx="657.6" cy="248.10" r="3.9" fill="#fff"/>
<circle cx="501.2" cy="256.69" r="3.9" fill="#fff"/>
<circle cx="510.4" cy="256.69" r="3.9" fill="#fff"/>
<circle cx="519.6" cy="256.69" r="3.9" fill="#fff"/>
<circle cx="528.8" cy="256.69" r="3.9" fill="#fff"/>
<circle cx="538.0" cy="256.69" r="3.9" fill="#fff"/>
<circle cx="547.2" cy="256.69" r="3.9" fill="#fff"/>
<circle cx="556.4" cy="256.69" r="3.9" fill="#fff"/>
<circle cx="565.6" cy="256.69" r="3.9" fill="#fff"/>
<circle cx="574.8" cy="256.69" r="3.9" fill="#fff"/>
<circle cx="584.0" cy="256.69" r="3.9" fill="#fff"/>
<circle cx="593.2" cy="256.69" r="3.9" fill="#fff"/>
<circle cx="602.4" cy="256.69" r="3.9" fill="#fff"/>
<circle cx="611.6" cy="256.69" r="3.9" fill="#fff"/>
<circle cx="620.8" cy="256.69" r="3.9" fill="#fff"/>
<circle cx="630.0" cy="256.69" r="3.9" fill="#fff"/>
<circle cx="639.2" cy="256.69" r="3.9" fill="#fff"/>
<circle cx="648.4" cy="256.69" r="3.9" fill="#fff"/>
<circle cx="657.6" cy="256.69" r="3.9" fill="#fff"/>
<circle cx="501.2" cy="265.28" r="3.9" fill="#fff"/>
<circle cx="510.4" cy="265.28" r="3.9" fill="#fff"/>
<circle cx="519.6" cy="265.28" r="3.9" fill="#fff"/>
<circle cx="528.8" cy="265.28" r="3.9" fill="#fff"/>
<circle cx="538.0" cy="265.28" r="3.9" fill="#fff"/>
<circle cx="547.2" cy="265.28" r="3.9" fill="#fff"/>
<circle cx="556.4" cy="265.28" r="3.9" fill="#fff"/>
<circle cx="565.6" cy="265.28" r="3.9" fill="#fff"/>
<circle cx="574.8" cy="265.28" r="3.9" fill="#fff"/>
<circle cx="584.0" cy="265.28" r="3.9" fill="#fff"/>
<circle cx="593.2" cy="265.28" r="3.9" fill="#fff"/>
<circle cx="602.4" cy="265.28" r="3.9" fill="#fff"/>
<circle cx="611.6" cy="265.28" r="3.9" fill="#fff"/>
<circle cx="620.8" cy="265.28" r="3.9" fill="#fff"/>
<circle cx="630.0" cy="265.28" r="3.9" fill="#fff"/>
<circle cx="639.2" cy="265.28" r="3.9" fill="#fff"/>
<circle cx="648.4" cy="265.28" r="3.9" fill="#fff"/>
<circle cx="657.6" cy="265.28" r="3.9" fill="#fff"/>
<circle cx="501.2" cy="273.87" r="3.9" fill="#fff"/>
<circle cx="510.4" cy="273.87" r="3.9" fill="#000"/>
<circle cx="519.6" cy="273.87" r="3.9" fill="#fff"/>
<circle cx="528.8" cy="273.87" r="3.9" fill="#000"/>
<circle cx="538.0" cy="273.87" r="3.9" fill="#fff"/>
<circle cx="547.2" cy="273.87" r="3.9" fill="#fff"/>
<circle cx="556.4" cy="273.87" r="3.9" fill="#fff"/>
<circle cx="565.6" cy="273.87" r="3.9" fill="#fff"/>
<circle cx="574.8" cy="273.87" r="3.9" fill="#fff"/>
<circle cx="584.0" cy="273.87" r="3.9" fill="#fff"/>
<circle cx="593.2" cy="273.87" r="3.9" fill="#000"/>
<circle cx="602.4" cy="273.87" r="3.9" fill="#fff"/>
<circle cx="611.6" cy="273.87" r="3.9" fill="#fff"/>
<circle cx="620.8" cy="273.87" r="3.9" fill="#fff"/>
<circle cx="630.0" cy="273.87" r="3.9" fill="#fff"/>
<circle cx="639.2" cy="273.87" r="3.9" fill="#000"/>
<circle cx="648.4" cy="273.87" r="3.9" fill="#fff"/>
<circle cx="657.6" cy="273.87" r="3.9" fill="#fff"/>
<circle cx="501.2" cy="282.46" r="3.9" fill="#fff"/>
<circle cx="510.4" cy="282.46" r="3.9" fill="#fff"/>
<circle cx="519.6" cy="282.46" r="3.9" fill="#fff"/>
<circle cx="528.8" cy="282.46" r="3.9" fill="#fff"/>
<circle cx="538.0" cy="282.46" r="3.9" fill="#fff"/>
<circle cx="547.2" cy="282.46" r="3.9" fill="#fff"/>
<circle cx="556.4" cy="282.46" r="3.9" fill="#fff"/>
<circle cx="565.6" cy="282.46" r="3.9" fill="#fff"/>
<circle cx="574.8" cy="282.46" r="3.9" fill="#fff"/>
<circle cx="584.0" cy="282.46" r="3.9" fill="#fff"/>
<circle cx="593.2" cy="282.46" r="3.9" fill="#fff"/>
<circle cx="602.4" cy="282.46" r="3.9" fill="#fff"/>
<circle cx="611.6" cy="282.46" r="3.9" fill="#fff"/>
<circle cx="620.8" cy="282.46" r="3.9" fill="#fff"/>
<circle cx="630.0" cy="282.46" r="3.9" fill="#fff"/>
<circle cx="639.2" cy="282.46" r="3.9" fill="#fff"/>
<circle cx="648.4" cy="282.46" r="3.9" fill="#fff"/>
<circle cx="657.6" cy="282.46" r="3.9" fill="#fff"/>
<circle cx="501.2" cy="291.05" r="3.9" fill="#fff"/>
<circle cx="510.4" cy="291.05" r="3.9" fill="#fff"/>
<circle cx="519.6" cy="291.05" r="3.9" fill="#fff"/>
<circle cx="528.8" cy="291.05" r="3.9" fill="#fff"/>
<circle cx="538.0" cy="291.05" r="3.9" fill="#fff"/>
<circle cx="547.2" cy="291.05" r="3.9" fill="#fff"/>
<circle cx="556.4" cy="291.05" r="3.9" fill="#fff"/>
<circle cx="565.6" cy="291.05" r="3.9" fill="#fff"/>
<circle cx="574.8" cy="291.05" r="3.9" fill="#fff"/>
<circle cx="584.0" cy="291.05" r="3.9" fill="#fff"/>
<circle cx="593.2" cy="291.05" r="3.9" fill="#fff"/>
<circle cx="602.4" cy="291.05" r="3.9" fill="#fff"/>
<circle cx="611.6" cy="291.05" r="3.9" fill="#fff"/>
<circle cx="620.8" cy="291.05" r="3.9" fill="#fff"/>
<circle cx="630.0" cy="291.05" r="3.9" fill="#fff"/>
<circle cx="639.2" cy="291.05" r="3.9" fill="#fff"/>
<circle cx="648.4" cy="291.05" r="3.9" fill="#fff"/>
<circle cx="657.6" cy="291.05" r="3.9" fill="#fff"/>
<circle cx="501.2" cy="299.64" r="3.9" fill="#fff"/>
<circle cx="510.4" cy="299.64" r="3.9" fill="#fff"/>
<circle cx="519.6" cy="299.64" r="3.9" fill="#fff"/>
<circle cx="528.8" cy="299.64" r="3.9" fill="#fff"/>
<circle cx="538.0" cy="299.64" r="3.9" fill="#fff"/>
<circle cx="547.2" cy="299.64" r="3.9" fill="#fff"/>
<circle cx="556.4" cy="299.64" r="3.9" fill="#fff"/>
<circle cx="565.6" cy="299.64" r="3.9" fill="#fff"/>
<circle cx="574.8" cy="299.64" r="3.9" fill="#fff"/>
<circle cx="584.0" cy="299.64" r="3.9" fill="#fff"/>
<circle cx="593.2" cy="299.64" r="3.9" fill="#fff"/>
<circle cx="602.4" cy="299.64" r="3.9" fill="#fff"/>
<circle cx="611.6" cy="299.64" r="3.9" fill="#fff"/>
<circle cx="620.8" cy="299.64" r="3.9" fill="#fff"/>
<circle cx="630.0" cy="299.64" r="3.9" fill="#fff"/>
<circle cx="639.2" cy="299.64" r="3.9" fill="#fff"/>
<circle cx="648.4" cy="299.64" r="3.9" fill="#fff"/>
<circle cx="657.6" cy="299.64" r="3.9" fill="#fff"/>
<circle cx="501.2" cy="308.23" r="3.9" fill="#fff"/>
<circle cx="510.4" cy="308.23" r="3.9" fill="#fff"/>
<circle cx="519.6" cy="308.23" r="3.9" fill="#fff"/>
<circle cx="528.8" cy="308.23" r="3.9" fill="#fff"/>
<circle cx="538.0" cy="308.23" r="3.9" fill="#fff"/>
<circle cx="547.2" cy="308.23" r="3.9" fill="#fff"/>
<circle cx="556.4" cy="308.23" r="3.9" fill="#fff"/>
<circle cx="565.6" cy="308.23" r="3.9" fill="#fff"/>
<circle cx="574.8" cy="308.23" r="3.9" fill="#fff"/>
<circle cx="584.0" cy="308.23" r="3.9" fill="#fff"/>
<circle cx="593.2" cy="308.23" r="3.9" fill="#fff"/>
<circle cx="602.4" cy="308.23" r="3.9" fill="#fff"/>
<circle cx="611.6" cy="308.23" r="3.9" fill="#fff"/>
<circle cx="620.8" cy="308.23" r="3.9" fill="#fff"/>
<circle cx="630.0" cy="308.23" r="3.9" fill="#fff"/>
<circle cx="639.2" cy="308.23" r="3.9" fill="#fff"/>
<circle cx="648.4" cy="308.23" r="3.9" fill="#fff"/>
<circle cx="657.6" cy="308.23" r="3.9" fill="#fff"/>
<circle cx="501.2" cy="316.82" r="3.9" fill="#fff"/>
<circle cx="510.4" cy="316.82" r="3.9" fill="#fff"/>
<circle cx="519.6" cy="316.82" r="3.9" fill="#fff"/>
<circle cx="528.8" cy="316.82" r="3.9" fill="#fff"/>
<circle cx="538.0" cy="316.82" r="3.9" fill="#fff"/>
<circle cx="547.2" cy="316.82" r="3.9" fill="#fff"/>
<circle cx="556.4" cy="316.82" r="3.9" fill="#fff"/>
<circle cx="565.6" cy="316.82" r="3.9" fill="#fff"/>
<circle cx="574.8" cy="316.82" r="3.9" fill="#fff"/>
<circle cx="584.0" cy="316.82" r="3.9" fill="#fff"/>
<circle cx="593.2" cy="316.82" r="3.9" fill="#fff"/>
<circle cx="602.4" cy="316.82" r="3.9" fill="#fff"/>
<circle cx="611.6" cy="316.82" r="3.9" fill="#fff"/>
<circle cx="620.8" cy="316.82" r="3.9" fill="#fff"/>
<circle cx="630.0" cy="316.82" r="3.9" fill="#fff"/>
<circle cx="639.2" cy="316.82" r="3.9" fill="#fff"/>
<circle cx="648.4" cy="316.82" r="3.9" fill="#fff"/>
<circle cx="657.6" cy="316.82" r="3.9" fill="#fff"/>
<circle cx="501.2" cy="325.41" r="3.9" fill="#fff"/>
<circle cx="510.4" cy="325.41" r="3.9" fill="#fff"/>
<circle cx="519.6" cy="325.41" r="3.9" fill="#fff"/>
<circle cx="528.8" cy="325.41" r="3.9" fill="#fff"/>
<circle cx="538.0" cy="325.41" r="3.9" fill="#fff"/>
<circle cx="547.2" cy="325.41" r="3.9" fill="#fff"/>
<circle cx="556.4" cy="325.41" r="3.9" fill="#fff"/>
<circle cx="565.6" cy="325.41" r="3.9" fill="#fff"/>
<circle cx="574.8" cy="325.41" r="3.9" fill="#fff"/>
<circle cx="584.0" cy="325.41" r="3.9" fill="#fff"/>
<circle cx="593.2" cy="325.41" r="3.9" fill="#fff"/>
<circle cx="602.4" cy="325.41" r="3.9" fill="#fff"/>
<circle cx="611.6" cy="325.41" r="3.9" fill="#fff"/>
<circle cx="620.8" cy="325.41" r="3.9" fill="#fff"/>
<circle cx="630.0" cy="325.41" r="3.9" fill="#fff"/>
<circle cx="639.2" cy="325.41" r="3.9" fill="#fff"/>
<circle cx="648.4" cy="325.41" r="3.9" fill="#fff"/>
<circle cx="657.6" cy="325.41" r="3.9" fill="#fff"/>
<circle cx="501.2" cy="334.00" r="3.9" fill="#fff"/>
<circle cx="510.4" cy="334.00" r="3.9" fill="#fff"/>
<circle cx="519.6" cy="334.00" r="3.9" fill="#fff"/>
<circle cx="528.8" cy="334.00" r="3.9" fill="#fff"/>
<circle cx="538.0" cy="334.00" r="3.9" fill="#fff"/>
<circle cx="547.2" cy="334.00" r="3.9" fill="#fff"/>
<circle cx="556.4" cy="334.00" r="3.9" fill="#fff"/>
<circle cx="565.6" cy="334.00" r="3.9" fill="#fff"/>
<circle cx="574.8" cy="334.00" r="3.9" fill="#fff"/>
<circle cx="584.0" cy="334.00" r="3.9" fill="#fff"/>
<circle cx="593.2" cy="334.00" r="3.9" fill="#fff"/>
<circle cx="602.4" cy="334.00" r="3.9" fill="#fff"/>
<circle cx="611.6" cy="334.00" r="3.9" fill="#fff"/>
<circle cx="620.8" cy="334.00" r="3.9" fill="#fff"/>
<circle cx="630.0" cy="334.00" r="3.9" fill="#fff"/>
<circle cx="639.2" cy="334.00" r="3.9" fill="#fff"/>
<circle cx="648.4" cy="334.00" r="3.9" fill="#fff"/>
<circle cx="657.6" cy="334.00" r="3.9" fill="#fff"/>
<circle cx="501.2" cy="342.59" r="3.9" fill="#fff"/>
<circle cx="510.4" cy="342.59" r="3.9" fill="#fff"/>
<circle cx="519.6" cy="342.59" r="3.9" fill="#fff"/>
<circle cx="528.8" cy="342.59" r="3.9" fill="#fff"/>
<circle cx="538.0" cy="342.59" r="3.9" fill="#fff"/>
<circle cx="547.2" cy="342.59" r="3.9" fill="#fff"/>
<circle cx="556.4" cy="342.59" r="3.9" fill="#fff"/>
<circle cx="565.6" cy="342.59" r="3.9" fill="#fff"/>
<circle cx="574.8" cy="342.59" r="3.9" fill="#fff"/>
<circle cx="584.0" cy="342.59" r="3.9" fill="#fff"/>
<circle cx="593.2" cy="342.59" r="3.9" fill="#fff"/>
<circle cx="602.4" cy="342.59" r="3.9" fill="#fff"/>
<circle cx="611.6" cy="342.59" r="3.9" fill="#fff"/>
<circle cx="620.8" cy="342.59" r="3.9" fill="#fff"/>
<circle cx="630.0" cy="342.59" r="3.9" fill="#fff"/>
<circle cx="639.2" cy="342.59" r="3.9" fill="#fff"/>
<circle cx="648.4" cy="342.59" r="3.9" fill="#fff"/>
<circle cx="657.6" cy="342.59" r="3.9" fill="#fff"/>
<circle cx="501.2" cy="351.18" r="3.9" fill="#fff"/>
<circle cx="510.4" cy="351.18" r="3.9" fill="#fff"/>
<circle cx="519.6" cy="351.18" r="3.9" fill="#fff"/>
<circle cx="528.8" cy="351.18" r="3.9" fill="#fff"/>
<circle cx="538.0" cy="351.18" r="3.9" fill="#fff"/>
<circle cx="547.2" cy="351.18" r="3.9" fill="#fff"/>
<circle cx="556.4" cy="351.18" r="3.9" fill="#fff"/>
<circle cx="565.6" cy="351.18" r="3.9" fill="#fff"/>
<circle cx="574.8" cy="351.18" r="3.9" fill="#fff"/>
<circle cx="584.0" cy="351.18" r="3.9" fill="#fff"/>
<circle cx="593.2" cy="351.18" r="3.9" fill="#fff"/>
<circle cx="602.4" cy="351.18" r="3.9" fill="#fff"/>
<circle cx="611.6" cy="351.18" r="3.9" fill="#fff"/>
<circle cx="620.8" cy="351.18" r="3.9" fill="#fff"/>
<circle cx="630.0" cy="351.18" r="3.9" fill="#fff"/>
<circle cx="639.2" cy="351.18" r="3.9" fill="#fff"/>
<circle cx="648.4" cy="351.18" r="3.9" fill="#fff"/>
<circle cx="657.6" cy="351.18" r="3.9" fill="#fff"/>
<circle cx="501.2" cy="359.77" r="3.9" fill="#fff"/>
<circle cx="510.4" cy="359.77" r="3.9" fill="#fff"/>
<circle cx="519.6" cy="359.77" r="3.9" fill="#fff"/>
<circle cx="528.8" cy="359.77" r="3.9" fill="#fff"/>
<circle cx="538.0" cy="359.77" r="3.9" fill="#fff"/>
<circle cx="547.2" cy="359.77" r="3.9" fill="#fff"/>
<circle cx="556.4" cy="359.77" r="3.9" fill="#fff"/>
<circle cx="565.6" cy="359.77" r="3.9" fill="#fff"/>
<circle cx="574.8" cy="359.77" r="3.9" fill="#fff"/>
<circle cx="584.0" cy="359.77" r="3.9" fill="#fff"/>
<circle cx="593.2" cy="359.77" r="3.9" fill="#fff"/>
<circle cx="602.4" cy="359.77" r="3.9" fill="#fff"/>
<circle cx="611.6" cy="359.77" r="3.9" fill="#fff"/>
<circle cx="620.8" cy="359.77" r="3.9" fill="#fff"/>
<circle cx="630.0" cy="359.77" r="3.9" fill="#fff"/>
<circle cx="639.2" cy="359.77" r="3.9" fill="#fff"/>
<circle cx="648.4" cy="359.77" r="3.9" fill="#fff"/>
<circle cx="657.6" cy="359.77" r="3.9" fill="#fff"/>
<circle cx="501.2" cy="368.36" r="3.9" fill="#fff"/>
<circle cx="510.4" cy="368.36" r="3.9" fill="#fff"/>
<circle cx="519.6" cy="368.36" r="3.9" fill="#fff"/>
<circle cx="528.8" cy="368.36" r="3.9" fill="#fff"/>
<circle cx="538.0" cy="368.36" r="3.9" fill="#fff"/>
<circle cx="547.2" cy="368.36" r="3.9" fill="#fff"/>
<circle cx="556.4" cy="368.36" r="3.9" fill="#fff"/>
<circle cx="565.6" cy="368.36" r="3.9" fill="#fff"/>
<circle cx="574.8" cy="368.36" r="3.9" fill="#fff"/>
<circle cx="584.0" cy="368.36" r="3.9" fill="#fff"/>
<circle cx="593.2" cy="368.36" r="3.9" fill="#fff"/>
<circle cx="602.4" cy="368.36" r="3.9" fill="#fff"/>
<circle cx="611.6" cy="368.36" r="3.9" fill="#fff"/>
<circle cx="620.8" cy="368.36" r="3.9" fill="#fff"/>
<circle cx="630.0" cy="368.36" r="3.9" fill="#fff"/>
<circle cx="639.2" cy="368.36" r="3.9" fill="#fff"/>
<circle cx="648.4" cy="368.36" r="3.9" fill="#fff"/>
<circle cx="657.6" cy="368.36" r="3.9" fill="#fff"/>
<circle cx="501.2" cy="376.95" r="3.9" fill="#fff"/>
<circle cx="510.4" cy="376.95" r="3.9" fill="#fff"/>
<circle cx="519.6" cy="376.95" r="3.9" fill="#fff"/>
<circle cx="528.8" cy="376.95" r="3.9" fill="#fff"/>
<circle cx="538.0" cy="376.95" r="3.9" fill="#fff"/>
<circle cx="547.2" cy="376.95" r="3.9" fill="#fff"/>
<circle cx="556.4" cy="376.95" r="3.9" fill="#fff"/>
<circle cx="565.6" cy="376.95" r="3.9" fill="#fff"/>
<circle cx="574.8" cy="376.95" r="3.9" fill="#fff"/>
<circle cx="584.0" cy="376.95" r="3.9" fill="#fff"/>
<circle cx="593.2" cy="376.95" r="3.9" fill="#fff"/>
<circle cx="602.4" cy="376.95" r="3.9" fill="#fff"/>
<circle cx="611.6" cy="376.95" r="3.9" fill="#fff"/>
<circle cx="620.8" cy="376.95" r="3.9" fill="#fff"/>
<circle cx="630.0" cy="376.95" r="3.9" fill="#fff"/>
<circle cx="639.2" cy="376.95" r="3.9" fill="#fff"/>
<circle cx="648.4" cy="376.95" r="3.9" fill="#fff"/>
<circle cx="657.6" cy="376.95" r="3.9" fill="#fff"/>
<circle cx="501.2" cy="385.54" r="3.9" fill="#fff"/>
<circle cx="510.4" cy="385.54" r="3.9" fill="#fff"/>
<circle cx="519.6" cy="385.54" r="3.9" fill="#fff"/>
<circle cx="528.8" cy="385.54" r="3.9" fill="#fff"/>
<circle cx="538.0" cy="385.54" r="3.9" fill="#fff"/>
<circle cx="547.2" cy="385.54" r="3.9" fill="#fff"/>
<circle cx="556.4" cy="385.54" r="3.9" fill="#fff"/>
<circle cx="565.6" cy="385.54" r="3.9" fill="#fff"/>
<circle cx="574.8" cy="385.54" r="3.9" fill="#fff"/>
<circle cx="584.0" cy="385.54" r="3.9" fill="#fff"/>
<circle cx="593.2" cy="385.54" r="3.9" fill="#fff"/>
<circle cx="602.4" cy="385.54" r="3.9" fill="#fff"/>
<circle cx="611.6" cy="385.54" r="3.9" fill="#fff"/>
<circle cx="620.8" cy="385.54" r="3.9" fill="#fff"/>
<circle cx="630.0" cy="385.54" r="3.9" fill="#fff"/>
<circle cx="639.2" cy="385.54" r="3.9" fill="#fff"/>
<circle cx="648.4" cy="385.54" r="3.9" fill="#fff"/>
<circle cx="657.6" cy="385.54" r="3.9" fill="#fff"/>
</g>
<g font-size="6.1" fill="#111" stroke="#111" stroke-width="0.1">
<text transform="translate(503.4 67) rotate(-89.95)">Rifampicin</text>
<text transform="translate(512.6 67) rotate(-89.95)">Isoniazid</text>
<text transform="translate(521.8 67) rotate(-89.95)">Ethambutol</text>
<text transform="translate(531.0 67) rotate(-89.95)">Pyrazinamide</text>
<text transform="translate(540.2 67) rotate(-89.95)">Moxifloxacin</text>
<text transform="translate(549.4 67) rotate(-89.95)">Levofloxacin</text>
<text transform="translate(558.6 67) rotate(-89.95)">Bedaquiline</text>
<text transform="translate(567.8 67) rotate(-89.95)">Delamanid</text>
<text transform="translate(577.0 67) rotate(-89.95)">Pretomanid</text>
<text transform="translate(586.2 67) rotate(-89.95)">Linezolid</text>
<text transform="translate(595.4 67) rotate(-89.95)">Streptomycin</text>
<text transform="translate(604.6 67) rotate(-89.95)">Amikacin</text>
<text transform="translate(613.8 67) rotate(-89.95)">Kanamycin</text>
<text transform="translate(623.0 67) rotate(-89.95)">Capromycin</text>
<text transform="translate(632.2 67) rotate(-89.95)">Clofazimine</text>
<text transform="translate(641.4 67) rotate(-89.95)">Ethionamide</text>
<text transform="translate(650.6 67) rotate(-89.95)">Para-aminosalicylic_acid</text>
<text transform="translate(659.8 67) rotate(-89.95)">Cycloserine</text>
</g>
<rect x="666.6" y="72.00" width="7.4" height="8.59" fill="#f4f6f9"/>
<rect x="666.6" y="80.59" width="7.4" height="8.59" fill="#ffc107"/>
<rect x="666.6" y="89.18" width="7.4" height="51.54" fill="#28a745"/>
<rect x="666.6" y="140.72" width="7.4" height="8.59" fill="#e2a9d8"/>
<rect x="666.6" y="149.32" width="7.4" height="51.54" fill="#28a745"/>
<rect x="666.6" y="200.85" width="7.4" height="17.18" fill="#e2a9d8"/>
<rect x="666.6" y="218.03" width="7.4" height="51.54" fill="#28a745"/>
<rect x="666.6" y="269.57" width="7.4" height="8.59" fill="#e2a9d8"/>
<rect x="666.6" y="278.16" width="7.4" height="111.67" fill="#28a745"/>
<g font-size="12" fill="#111" stroke="#111" stroke-width="0.3">
<text transform="translate(675.07 115.66) rotate(0.05)">*</text>
<text transform="translate(675.57 142.46) rotate(0.05)">*</text>
<text transform="translate(675.57 209.66) rotate(0.05)">*</text>
<text transform="translate(675.07 289.36) rotate(0.05)">*</text>
<text transform="translate(675.47 314.16) rotate(0.05)">*</text>
<text transform="translate(675.77 331.56) rotate(0.05)">*</text>
<text transform="translate(676.27 393.36) rotate(0.05)">*</text>
</g>
</svg>
</body></html>
